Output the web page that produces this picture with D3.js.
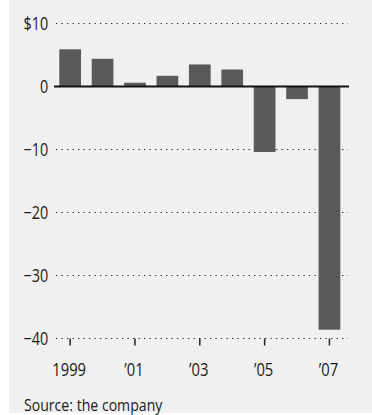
<!DOCTYPE html>
<html>
<head>
<meta charset="utf-8">
<script src="https://cdn.jsdelivr.net/npm/d3@7"></script>
<style>
  html, body { margin: 0; padding: 0; background: #ffffff; }
  svg { display: block; }
  text { font-family: "Open Sans", "Noto Sans", sans-serif; fill: #1a1a1a; }
</style>
</head>
<body>
<svg id="chart" width="372" height="415"></svg>
<script>
// ---- data ----
const years = [1999, 2000, 2001, 2002, 2003, 2004, 2005, 2006, 2007];
const values = [5.9, 4.4, 0.6, 1.7, 3.5, 2.7, -10.4, -2.0, -38.6];
const yTicks = [10, 0, -10, -20, -30, -40];
const yTickLabels = ["$10", "0", "\u221210", "\u221220", "\u221230", "\u221240"];
const xTickYears = [1999, 2001, 2003, 2005, 2007];
const xTickLabels = ["1999", "\u201901", "\u201903", "\u201905", "\u201907"];
const sourceText = "Source: the company";

// ---- layout ----
function narrow(k) {
  return sel => sel.each(function () {
    const w = this.getComputedTextLength();
    d3.select(this).attr("textLength", w * k).attr("lengthAdjust", "spacingAndGlyphs");
  });
}

const svg = d3.select("#chart");
svg.append("rect").attr("x", 9).attr("y", 0).attr("width", 363).attr("height", 413).attr("fill", "#f0f0f0");

const y = d3.scaleLinear().domain([-40, 10]).range([338.5, 23.5]);
const x = d3.scaleBand().domain(years).range([48.6, 351]).paddingInner(0.33).paddingOuter(0.33);

const gridX0 = 56, gridX1 = 348;

// dotted gridlines (non-zero)
svg.append("g").selectAll("line")
  .data(yTicks.filter(d => d !== 0))
  .join("line")
  .attr("x1", gridX0).attr("x2", gridX1)
  .attr("y1", d => y(d)).attr("y2", d => y(d))
  .attr("stroke", "#2a2a2a")
  .attr("stroke-width", 1.2)
  .attr("stroke-dasharray", "1.3,4.2");

// y labels
svg.append("g").selectAll("text")
  .data(yTicks)
  .join("text")
  .attr("x", 48.3)
  .attr("y", d => y(d))
  .attr("dy", "0.36em")
  .attr("text-anchor", "end")
  .attr("font-size", 18)
  .text((d, i) => yTickLabels[i])
  .call(narrow(0.8));

// bars
svg.append("g").selectAll("rect")
  .data(years)
  .join("rect")
  .attr("x", d => x(d))
  .attr("width", x.bandwidth())
  .attr("y", (d, i) => y(Math.max(0, values[i])))
  .attr("height", (d, i) => Math.abs(y(values[i]) - y(0)))
  .attr("fill", "#5a5a5a");

// zero line
svg.append("line")
  .attr("x1", 54).attr("x2", 349)
  .attr("y1", y(0)).attr("y2", y(0))
  .attr("stroke", "#111")
  .attr("stroke-width", 2);

// x ticks
svg.append("g").selectAll("line")
  .data(xTickYears)
  .join("line")
  .attr("x1", d => x(d) + x.bandwidth() / 2)
  .attr("x2", d => x(d) + x.bandwidth() / 2)
  .attr("y1", y(-40)).attr("y2", y(-40) + 7)
  .attr("stroke", "#222")
  .attr("stroke-width", 1.5);

// x labels
svg.append("g").selectAll("text")
  .data(xTickYears)
  .join("text")
  .attr("x", d => x(d) + x.bandwidth() / 2 - 1)
  .attr("y", 375.7)
  .attr("text-anchor", "middle")
  .attr("font-size", 18)
  .text((d, i) => xTickLabels[i])
  .call(narrow(0.82));

// source
svg.append("text")
  .attr("x", 24)
  .attr("y", 410.7)
  .attr("font-size", 16.4)
  .text(sourceText)
  .call(narrow(0.86));
</script>
</body>
</html>
